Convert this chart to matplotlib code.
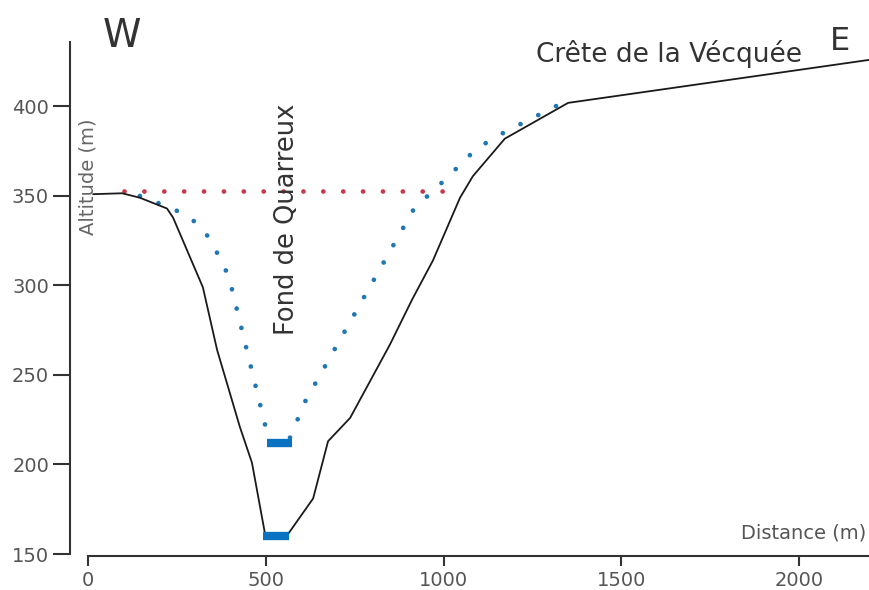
import matplotlib
matplotlib.use("Agg")
import matplotlib.pyplot as plt

# Terrain profile (distance m, altitude m)
profile_d = [15, 96, 146, 222, 239, 323, 363, 427, 461, 498, 562, 633, 675, 737,
             849, 911, 970, 1046, 1082, 1172, 1350, 2196]
profile_alt = [351, 351.5, 349, 343, 338, 299, 264, 221, 201, 161, 161, 181, 213, 226,
               267, 292, 314, 349, 361, 382, 402, 426]

# Reconstructed valley (blue dotted)
left_d = [146, 211, 264, 312, 346, 396, 503]
left_alt = [350, 345, 340.5, 334, 325, 305, 218]
right_d = [568, 610, 917, 998, 1080, 1125, 1175, 1324]
right_alt = [215, 235, 343, 358, 374, 380.5, 386, 401]

# Valley floors (blue bars)
upper_floor_d = [503, 573]
upper_floor_alt = [212, 212]
lower_floor_d = [492, 565]
lower_floor_alt = [160, 160]

# Red dotted level
level_d = [101, 1009]
level_alt = [353, 353]

x_ticks = [0, 500, 1000, 1500, 2000]
y_ticks = [150, 200, 250, 300, 350, 400]

grey = "#555555"
dark = "#333333"
blue = "#1f77b4"
bar_blue = "#0a72c0"
red = "#c8384a"

fig = plt.figure(figsize=(8.69, 5.90), dpi=100)
ax = fig.add_axes([88 / 869, 36 / 590, 781 / 869, 512 / 590])
ax.set_xlim(0, 2196)
ax.set_ylim(150, 436)

dot = (0, (0.01, 4.2))
ax.plot(level_d, level_alt, color=red, lw=3.4, linestyle=dot, dash_capstyle="round")
ax.plot(left_d, left_alt, color=blue, lw=3.4, linestyle=dot, dash_capstyle="round")
ax.plot(right_d, right_alt, color=blue, lw=3.4, linestyle=dot, dash_capstyle="round")
ax.plot(profile_d, profile_alt, color="#1a1a1a", lw=1.3)
ax.plot(upper_floor_d, upper_floor_alt, color=bar_blue, lw=6, solid_capstyle="butt")
ax.plot(lower_floor_d, lower_floor_alt, color=bar_blue, lw=6, solid_capstyle="butt")

for s in ["top", "right"]:
    ax.spines[s].set_visible(False)
ax.spines["left"].set_position(("outward", 13))
ax.spines["bottom"].set_position(("outward", 1.5))
for s in ["left", "bottom"]:
    ax.spines[s].set_color(dark)
    ax.spines[s].set_linewidth(1.5)

ax.set_xticks(x_ticks)
ax.set_yticks(y_ticks)
ax.tick_params(axis="y", direction="out", length=12, width=1.5, color=dark,
               labelsize=14, labelcolor=grey, pad=3)
ax.tick_params(axis="x", direction="out", length=7, width=1.5, color=dark,
               labelsize=14, labelcolor=grey, pad=4)

ax.text(42, 433, "W", fontsize=28, color=dark, ha="left", va="baseline", clip_on=False)
ax.text(2086, 431.5, "E", fontsize=23, color=dark, ha="left", va="baseline", clip_on=False)
ax.text(1259, 425, "Crête de la Vécquée", fontsize=19, color=dark, ha="left", va="baseline")
ax.text(559, 337, "Fond de Quarreux", fontsize=18.5, color=dark, rotation=90,
        ha="center", va="center")
ax.text(0, 361, "Altitude (m)", fontsize=14, color="#666666", rotation=90,
        ha="center", va="center", clip_on=False)
ax.text(2187, 161.5, "Distance (m)", fontsize=14, color=grey, ha="right", va="center")

fig.savefig("out.png", dpi=100)
